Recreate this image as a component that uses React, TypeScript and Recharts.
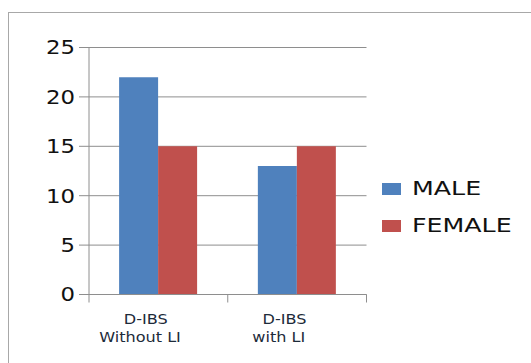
import { Bar, BarChart, CartesianGrid, XAxis, YAxis } from "recharts";

const categories = ["D-IBS\nWithout LI", "D-IBS\nwith LI"];
const maleValues = [22, 13];
const femaleValues = [15, 15];
const yTicks = [0, 5, 10, 15, 20, 25];
const seriesNames = ["MALE", "FEMALE"];
const seriesColors = ["#4F81BD", "#C0504D"];

const FONT = "'DejaVu Sans', Verdana, sans-serif";
const GRID = "#8e8e8e";

const data = categories.map((name, i) => ({
  name,
  male: maleValues[i],
  female: femaleValues[i]
}));

function YTick({ x, y, payload }: any) {
  return (
    <g transform={`translate(${x},${y})`}>
      <text transform="scale(1.2,1)" textAnchor="end" dy="0.36em" fontSize={19} fontFamily={FONT} fill="#111">
        {payload.value}
      </text>
    </g>
  );
}

// category labels plus the Excel-style tick marks on the band edges
function XTick({ x, y, payload, index, visibleTicksCount }: any) {
  const lines = String(payload.value).split("\n");
  const half = payload.offset ?? 0;
  const isLast = index === (visibleTicksCount ?? categories.length) - 1;
  return (
    <g transform={`translate(${x},${y})`}>
      <line x1={-half} x2={-half} y1={0} y2={8} stroke={GRID} />
      {isLast && <line x1={half} x2={half} y1={0} y2={8} stroke={GRID} />}
      {lines.map((line, i) => (
        <text
          key={i}
          transform="scale(1.15,1)"
          x={i === 0 ? -11 : -16}
          y={30 + i * 18}
          textAnchor="middle"
          fontSize={14}
          fontFamily={FONT}
          fill="#1d2b3a"
        >
          {line}
        </text>
      ))}
    </g>
  );
}

// legend kept outside the chart so it doesn't eat into the plot width
function LegendBox() {
  return (
    <div style={{ position: "absolute", left: 382, top: 170 }}>
      {seriesNames.map((name, i) => (
        <div key={name} style={{ display: "flex", alignItems: "center", height: 37 }}>
          <span style={{ width: 19, height: 12, background: seriesColors[i], display: "inline-block" }} />
          <span
            style={{
              marginLeft: 11,
              fontSize: 19,
              fontFamily: FONT,
              color: "#111",
              display: "inline-block",
              transform: "scaleX(1.33)",
              transformOrigin: "left center",
              lineHeight: "19px"
            }}
          >
            {name}
          </span>
        </div>
      ))}
    </div>
  );
}

export default function App() {
  return (
    <div style={{ position: "absolute", left: 0, top: 0, width: 531, height: 363, background: "#fff", overflow: "hidden" }}>
      <div
        style={{
          position: "absolute",
          left: 8,
          top: 12,
          width: 700,
          height: 500,
          border: "1.5px solid #a8a8a8"
        }}
      />
      <div style={{ position: "absolute", left: 0, top: 0 }}>
        <BarChart
          width={531}
          height={363}
          data={data}
          margin={{ top: 47.5, right: 164.5, left: 0, bottom: 0 }}
          barGap={0}
          barCategoryGap="21.7%"
        >
          <CartesianGrid vertical={false} stroke={GRID} />
          <XAxis
            dataKey="name"
            height={68.5}
            axisLine={{ stroke: GRID }}
            tickLine={false}
            tickSize={0}
            tickMargin={0}
            tick={<XTick />}
            interval={0}
          />
          <YAxis
            width={89}
            domain={[0, 25]}
            ticks={yTicks}
            tickSize={10}
            tickMargin={4}
            axisLine={{ stroke: GRID }}
            tickLine={{ stroke: GRID }}
            tick={<YTick />}
          />
          <Bar dataKey="male" name={seriesNames[0]} fill={seriesColors[0]} isAnimationActive={false} />
          <Bar dataKey="female" name={seriesNames[1]} fill={seriesColors[1]} isAnimationActive={false} />
        </BarChart>
      </div>
      <LegendBox />
    </div>
  );
}
